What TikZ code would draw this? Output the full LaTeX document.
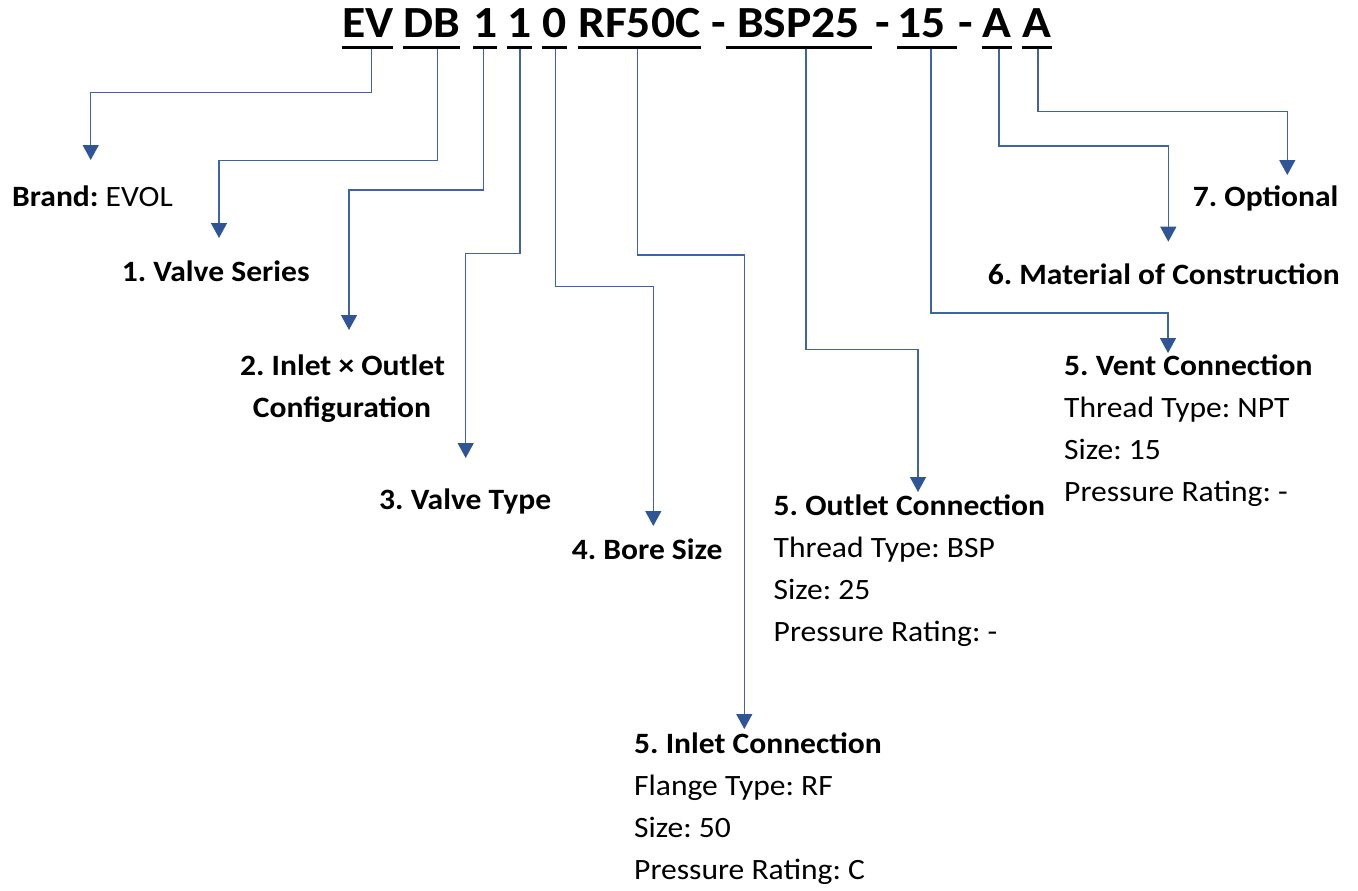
\documentclass[tikz,border=0pt]{standalone}
\usepackage{fontspec}
\setmainfont{Carlito}[FakeStretch=1.07]
\usetikzlibrary{arrows.meta}
\definecolor{lineblue}{HTML}{3F63AA}
\definecolor{headblue}{HTML}{2F5597}
\frenchspacing
\tikzset{
  seg/.style={inner sep=0pt, anchor=base west, font=\fontsize{44.5}{50}\selectfont\bfseries},
  uline/.style={line width=2.8pt, black},
  conn/.style={draw=lineblue, line width=1.4pt, -{Triangle[length=15pt,width=16pt,fill=headblue,color=headblue]}},
  lbl/.style={inner sep=0pt, anchor=base west, font=\fontsize{29.5}{42}\selectfont},
  blbl/.style={lbl, font=\fontsize{29.5}{42}\selectfont\bfseries},
}
\begin{document}
\begin{tikzpicture}[x=1pt,y=-1pt]
\useasboundingbox (0,0) rectangle (1358,891);
% title segments
\node[seg] (ev) at (342,38) {EV};
\node[seg] (db) at (403,38) {DB};
\node[seg] (oneA) at (473,38) {1};
\node[seg] (oneB) at (507,38) {1};
\node[seg] (zero) at (542,38) {0};
\node[seg] (rf) at (578,38) {RF50C};
\node[seg] (dashA) at (711,38) {-};
\node[seg] (bsp) at (737,38) {BSP25};
\node[seg] (dashB) at (875,38) {-};
\node[seg] (fif) at (897,38) {15};
\node[seg] (dashC) at (958,38) {-};
\node[seg] (aA) at (982,38) {A};
\node[seg] (aB) at (1022,38) {A};
% underlines
\draw[uline] (342,47.3) -- (393,47.3);
\draw[uline] (403,47.3) -- (460,47.3);
\draw[uline] (473,47.3) -- (497,47.3);
\draw[uline] (507,47.3) -- (531.5,47.3);
\draw[uline] (542,47.3) -- (567,47.3);
\draw[uline] (578,47.3) -- (701,47.3);
\draw[uline] (726,47.3) -- (872,47.3);
\draw[uline] (897,47.3) -- (957,47.3);
\draw[uline] (982,47.3) -- (1012,47.3);
\draw[uline] (1022,47.3) -- (1052,47.3);
% connector start points
\coordinate (s1) at (371.7,48.7);
\coordinate (s2) at (437.3,48.7);
\coordinate (s3) at (483.3,48.7);
\coordinate (s4) at (520,48.7);
\coordinate (s5) at (555.3,48.7);
\coordinate (s6) at (637.5,48.7);
\coordinate (s7) at (806,48.7);
\coordinate (s8) at (931,48.7);
\coordinate (s9) at (999,48.7);
\coordinate (s10) at (1038,48.7);
% arrow tips
\coordinate (t1) at (90.7,160);
\coordinate (t2) at (219,238);
\coordinate (t3) at (349,330);
\coordinate (t4) at (465.7,458);
\coordinate (t5) at (653.3,526);
\coordinate (t6) at (744.3,729);
\coordinate (t7) at (918,492);
\coordinate (t8) at (1168,353);
\coordinate (t9) at (1168.3,241.7);
\coordinate (t10) at (1287.3,175);
% labels
\node[lbl] (brand) at (12,206.7) {\textbf{Brand:} EVOL};
\node[blbl] (series) at (121.7,281.7) {1. Valve Series};
\node[blbl, anchor=base] (cfgA) at (342.5,375.7) {2. Inlet × Outlet};
\node[blbl, anchor=base] (cfgB) at (342,417.7) {Configuration};
\node[blbl] (vtype) at (379,509.3) {3. Valve Type};
\node[blbl] (bore) at (571.7,559) {4. Bore Size};
\node[blbl] (inH) at (634,753) {5. Inlet Connection};
\node[lbl] (inA) at (634,795) {Flange Type: RF};
\node[lbl] (inB) at (634,837) {Size: 50};
\node[lbl] (inC) at (634,879) {Pressure Rating: C};
\node[blbl] (outH) at (773.5,515) {5. Outlet Connection};
\node[lbl] (outA) at (773.5,557) {Thread Type: BSP};
\node[lbl] (outB) at (773.5,599) {Size: 25};
\node[lbl] (outC) at (773.5,641) {Pressure Rating: -};
\node[blbl] (ventH) at (1064,375) {5. Vent Connection};
\node[lbl] (ventA) at (1064,417) {Thread Type: NPT};
\node[lbl] (ventB) at (1064,459) {Size: 15};
\node[lbl] (ventC) at (1064,501) {Pressure Rating: -};
\node[blbl, anchor=base east] (moc) at (1340,284) {6. Material of Construction};
\node[blbl, anchor=base east] (opt) at (1338.5,206.7) {7. Optional};
% connectors
\draw[conn] (s1) -- ++(0,44) -| (t1);
\draw[conn] (s2) -- ++(0,112) -| (t2);
\draw[conn] (s3) -- ++(0,141.3) -| (t3);
\draw[conn] (s4) -- ++(0,204.6) -| (t4);
\draw[conn] (s5) -- ++(0,238) -| (t5);
\draw[conn] (s6) -- ++(0,206.3) -| (t6);
\draw[conn] (s7) -- ++(0,300.6) -| (t7);
\draw[conn] (s8) -- ++(0,264.3) -| (t8);
\draw[conn] (s9) -- ++(0,97.3) -| (t9);
\draw[conn] (s10) -- ++(0,63) -| (t10);
\end{tikzpicture}
\end{document}
